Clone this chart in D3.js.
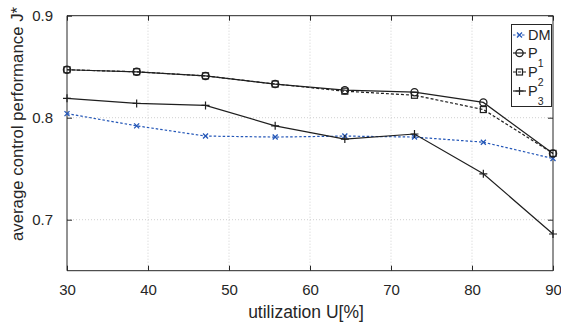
<!DOCTYPE html>
<html><head><meta charset="utf-8">
<script src="https://cdn.jsdelivr.net/npm/d3@7"></script>
<style>
html,body{margin:0;padding:0;background:#fff;}
text{font-family:"Liberation Sans",Arial,Helvetica,sans-serif;fill:#262626;}
</style></head>
<body>
<svg id="chart" width="561" height="325"></svg>
<script>
const utilization = [30, 38.6, 47.1, 55.7, 64.3, 72.9, 81.4, 90];
const seriesNames = ["DM", "P1", "P2", "P3"];
const DM = [0.804, 0.792, 0.782, 0.781, 0.782, 0.781, 0.776, 0.760];
const P1 = [0.847, 0.845, 0.841, 0.833, 0.827, 0.825, 0.815, 0.765];
const P2 = [0.847, 0.845, 0.841, 0.833, 0.826, 0.822, 0.808, 0.765];
const P3 = [0.819, 0.814, 0.812, 0.792, 0.779, 0.784, 0.745, 0.686];
const xTicks = [30, 40, 50, 60, 70, 80, 90];
const yTicks = [0.7, 0.8, 0.9];
const xLabel = "utilization U[%]";
const yLabel = "average control performance J*";

const svg = d3.select("#chart");
const L = 67, R = 553, T = 15.7, B = 270.7;
const x = d3.scaleLinear().domain([30, 90]).range([L, R]);
const y = d3.scaleLinear().domain([0.65, 0.9]).range([B, T]);
const axisColor = "#262626";

// grid
const grid = svg.append("g");
xTicks.filter(t => t > 30 && t < 90).forEach(t => {
  grid.append("line").attr("x1", x(t)).attr("x2", x(t)).attr("y1", T).attr("y2", B)
    .attr("stroke", "#d0d0d0").attr("stroke-width", 1).attr("stroke-dasharray", "1,2");
});
yTicks.filter(t => t < 0.9).forEach(t => {
  grid.append("line").attr("x1", L).attr("x2", R).attr("y1", y(t)).attr("y2", y(t))
    .attr("stroke", "#d0d0d0").attr("stroke-width", 1).attr("stroke-dasharray", "1,2");
});

// axes
const xAxisB = d3.axisBottom(x).tickValues(xTicks).tickSize(-5).tickPadding(14).tickFormat(d3.format("d"));
const xAxisT = d3.axisTop(x).tickValues(xTicks).tickSize(-5).tickFormat("");
const yAxisL = d3.axisLeft(y).tickValues(yTicks).tickSize(-5).tickPadding(14).tickFormat(d3.format(".1f"));
const yAxisR = d3.axisRight(y).tickValues(yTicks).tickSize(-5).tickFormat("");
function style(g) {
  g.select(".domain").attr("stroke", axisColor).attr("stroke-width", 1);
  g.selectAll(".tick line").attr("stroke", axisColor);
  g.selectAll(".tick text").attr("font-size", 15).attr("fill", "#262626")
    .attr("font-family", "Liberation Sans, Arial, sans-serif");
}
svg.append("g").attr("transform", `translate(0,${B})`).call(xAxisB).call(style)
  .call(g => g.select(".domain").attr("d", `M${L},0H${R}`));
svg.append("g").attr("transform", `translate(0,${T})`).call(xAxisT).call(style)
  .call(g => g.select(".domain").attr("d", `M${L},0H${R}`));
svg.append("g").attr("transform", `translate(${L},0)`).call(yAxisL).call(style)
  .call(g => g.select(".domain").attr("d", `M0,${T}V${B}`));
svg.append("g").attr("transform", `translate(${R},0)`).call(yAxisR).call(style)
  .call(g => g.select(".domain").attr("d", `M0,${T}V${B}`));

// series
const series = [
  {name: "DM", values: DM, color: "#2457b8", dash: "2.5,2", marker: "x"},
  {name: "P1", values: P1, color: "#1f1f1f", dash: null, marker: "o"},
  {name: "P2", values: P2, color: "#1f1f1f", dash: "3,2", marker: "s"},
  {name: "P3", values: P3, color: "#1f1f1f", dash: null, marker: "+"}
];
const line = d3.line().x(d => x(d[0])).y(d => y(d[1]));

function drawMarker(g, type, cx, cy, color) {
  if (type === "o") {
    g.append("circle").attr("cx", cx).attr("cy", cy).attr("r", 3.6)
      .attr("fill", "none").attr("stroke", color).attr("stroke-width", 1.3);
  } else if (type === "s") {
    g.append("rect").attr("x", cx - 3).attr("y", cy - 3).attr("width", 6).attr("height", 6)
      .attr("fill", "none").attr("stroke", color).attr("stroke-width", 1.2);
  } else if (type === "+") {
    g.append("path").attr("d", `M${cx-4},${cy}H${cx+4}M${cx},${cy-4}V${cy+4}`)
      .attr("stroke", color).attr("stroke-width", 1.2).attr("fill", "none");
  } else if (type === "x") {
    g.append("path").attr("d", `M${cx-2.5},${cy-2.5}L${cx+2.5},${cy+2.5}M${cx-2.5},${cy+2.5}L${cx+2.5},${cy-2.5}`)
      .attr("stroke", color).attr("stroke-width", 1.3).attr("fill", "none");
  }
}

series.forEach(s => {
  const pts = utilization.map((u, i) => [u, s.values[i]]);
  const g = svg.append("g");
  g.append("path").attr("d", line(pts)).attr("fill", "none")
    .attr("stroke", s.color).attr("stroke-width", 1.2)
    .attr("stroke-dasharray", s.dash);
  pts.forEach(p => drawMarker(g, s.marker, x(p[0]), y(p[1]), s.color));
});

// legend
const lg = svg.append("g");
lg.append("rect").attr("x", 511.5).attr("y", 24.5).attr("width", 40).attr("height", 82)
  .attr("fill", "#fff").attr("stroke", axisColor).attr("stroke-width", 1);
const legendY = [35, 53, 72, 91];
series.forEach((s, i) => {
  const ly = legendY[i];
  lg.append("line").attr("x1", 513).attr("x2", 526).attr("y1", ly).attr("y2", ly)
    .attr("stroke", s.color).attr("stroke-width", 1.2).attr("stroke-dasharray", s.dash);
  drawMarker(lg, s.marker, 519.5, ly, s.color);
  const t = lg.append("text").attr("x", 528).attr("y", ly + 5).attr("font-size", 14.5);
  if (s.name.length > 1 && s.name[0] === "P") {
    t.append("tspan").text("P");
    t.append("tspan").attr("font-size", 10.5).attr("dy", 9).text(s.name.slice(1));
  } else {
    t.text(s.name);
  }
});

// labels
svg.append("text").attr("x", (L + R) / 2 - 4).attr("y", 318).attr("text-anchor", "middle")
  .attr("font-size", 17.5).text(xLabel);
svg.append("text").attr("transform", "translate(23,124) rotate(-90)").attr("text-anchor", "middle")
  .attr("font-size", 16.8).text(yLabel);
</script>
</body></html>
